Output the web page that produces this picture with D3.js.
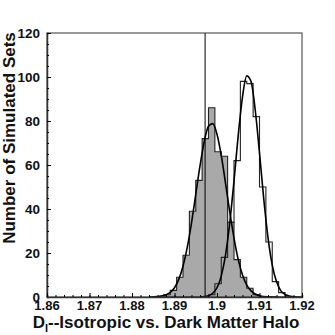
<!DOCTYPE html>
<html>
<head>
<meta charset="utf-8">
<script src="https://cdn.jsdelivr.net/npm/d3@7"></script>
<style>
  body { margin: 0; background: #fff; }
  text { font-family: "Liberation Sans", Arial, sans-serif; font-weight: bold; fill: #111; }
</style>
</head>
<body>
<div id="chart"></div>
<script>
// bin left edges (width 0.0015)
var binEdges = [1.8860, 1.8875, 1.8890, 1.8905, 1.8920, 1.8935, 1.8950, 1.8965, 1.8980, 1.8995,
  1.9010, 1.9025, 1.9040, 1.9055, 1.9070, 1.9085, 1.9100, 1.9115, 1.9130, 1.9145, 1.9160];
var binWidth = 0.0015;

// isotropic sets (grey histogram)
var isoCounts = [0, 1, 3, 9, 19, 39, 53, 72, 86, 66, 64, 34, 17, 9, 4, 1, 0, 0, 0, 0, 0];
// dark matter halo sets (open histogram)
var haloCounts = [0, 0, 0, 0, 0, 0, 0, 0, 1, 6, 18, 34, 62, 98, 97, 82, 50, 25, 7, 2, 0];

// fitted curves
var isoCurveX = [1.884, 1.886, 1.888, 1.889, 1.890, 1.891, 1.892, 1.893, 1.894, 1.895, 1.896, 1.897,
  1.898, 1.899, 1.900, 1.901, 1.902, 1.903, 1.904, 1.905, 1.906, 1.907, 1.908, 1.910, 1.912, 1.914];
var isoCurveY = [0, 0.2, 1.0, 2.1, 4.2, 8.0, 14, 22.6, 33.6, 46.6, 59.6, 70.7,
  77.6, 78.8, 74, 64.4, 51.8, 38.7, 26.8, 17, 10, 5.4, 2.8, 0.6, 0.1, 0];
var haloCurveX = [1.896, 1.898, 1.899, 1.900, 1.901, 1.902, 1.903, 1.904, 1.905, 1.906, 1.907,
  1.908, 1.909, 1.910, 1.911, 1.912, 1.913, 1.914, 1.915, 1.916, 1.918, 1.920];
var haloCurveY = [0, 0.6, 1.7, 4.2, 9.5, 19, 33.7, 52.8, 73.6, 91, 100.5,
  98, 84.9, 65.5, 44.6, 27, 14.5, 7, 2.9, 1.1, 0.1, 0];

var markerX = 1.8972;

var xTicks = [1.86, 1.87, 1.88, 1.89, 1.9, 1.91, 1.92];
var yTicks = [0, 20, 40, 60, 80, 100, 120];

var width = 335, height = 335;
var mLeft = 47, mRight = 302, mTop = 33, mBottom = 297;

var svg = d3.select("#chart").append("svg")
  .attr("width", width)
  .attr("height", height);

var x = d3.scaleLinear().domain([1.86, 1.92]).range([mLeft, mRight]);
var y = d3.scaleLinear().domain([0, 120]).range([mBottom, mTop]);

//Build step outline points for a histogram
function steps(counts) {
  var pts = [];
  for (var i = 0; i < counts.length; i++) {
    pts.push([binEdges[i], counts[i]]);
  }
  pts.push([binEdges[binEdges.length - 1] + binWidth, 0]);
  return pts;
}

var stepLine = d3.line()
  .x(d => x(d[0]))
  .y(d => y(d[1]))
  .curve(d3.curveStepAfter);

var stepArea = d3.area()
  .x(d => x(d[0]))
  .y0(y(0))
  .y1(d => y(d[1]))
  .curve(d3.curveStepAfter);

//grey filled histogram
svg.append("path")
  .datum(steps(isoCounts))
  .attr("fill", "#a9a9a9")
  .attr("d", stepArea);

//outlines
svg.append("path")
  .datum(steps(haloCounts))
  .attr("fill", "none")
  .attr("stroke", "#222")
  .attr("stroke-width", 1.1)
  .attr("d", stepLine);

svg.append("path")
  .datum(steps(isoCounts))
  .attr("fill", "none")
  .attr("stroke", "#222")
  .attr("stroke-width", 1.1)
  .attr("d", stepLine);

//fitted curves
var curve = d3.line()
  .x(d => x(d[0]))
  .y(d => y(d[1]))
  .curve(d3.curveMonotoneX);

svg.append("path")
  .datum(isoCurveX.map((v, i) => [v, isoCurveY[i]]))
  .attr("fill", "none")
  .attr("stroke", "#000")
  .attr("stroke-width", 1.6)
  .attr("d", curve);

svg.append("path")
  .datum(haloCurveX.map((v, i) => [v, haloCurveY[i]]))
  .attr("fill", "none")
  .attr("stroke", "#000")
  .attr("stroke-width", 1.6)
  .attr("d", curve);

//vertical marker
svg.append("line")
  .attr("x1", x(markerX)).attr("x2", x(markerX))
  .attr("y1", y(120)).attr("y2", y(0))
  .attr("stroke", "#000")
  .attr("stroke-width", 1);

//frame
svg.append("rect")
  .attr("x", mLeft).attr("y", mTop)
  .attr("width", mRight - mLeft).attr("height", mBottom - mTop)
  .attr("fill", "none")
  .attr("stroke", "#333")
  .attr("stroke-width", 1);

//y axis
svg.append("g")
  .attr("transform", "translate(" + mLeft + ",0)")
  .call(d3.axisRight(y).tickValues(d3.range(0, 121, 5)).tickSize(2).tickFormat(""))
  .call(g => g.select(".domain").attr("stroke", "#333").attr("stroke-width", 1.5));

svg.append("g")
  .attr("transform", "translate(" + mLeft + ",0)")
  .call(d3.axisRight(y).tickValues(yTicks).tickSize(4).tickFormat(""))
  .call(g => g.select(".domain").remove());

svg.append("g")
  .selectAll("text")
  .data(yTicks)
  .enter()
  .append("text")
  .attr("x", mLeft - 7)
  .attr("y", d => y(d) + 5)
  .attr("text-anchor", "end")
  .attr("font-size", 13.5)
  .text(d => d);

//x axis
svg.append("g")
  .attr("transform", "translate(0," + mBottom + ")")
  .call(d3.axisTop(x).tickValues(d3.range(0, 31).map(i => 1.86 + i * 0.002)).tickSize(2).tickFormat(""))
  .call(g => g.select(".domain").attr("stroke", "#333").attr("stroke-width", 1.5));

svg.append("g")
  .attr("transform", "translate(0," + mBottom + ")")
  .call(d3.axisTop(x).tickValues(xTicks).tickSize(4).tickFormat(""))
  .call(g => g.select(".domain").remove());

svg.append("g")
  .selectAll("text")
  .data(xTicks)
  .enter()
  .append("text")
  .attr("x", d => x(d))
  .attr("y", mBottom + 13)
  .attr("text-anchor", "middle")
  .attr("font-size", 13)
  .text(d => d3.format("")(d));

//axis titles
svg.append("text")
  .attr("transform", "translate(15,138) rotate(-90)")
  .attr("text-anchor", "middle")
  .attr("font-size", 17)
  .text("Number of Simulated Sets");

var xt = svg.append("text")
  .attr("x", 166)
  .attr("y", 328)
  .attr("text-anchor", "middle")
  .attr("font-size", 17);
xt.append("tspan").text("D");
xt.append("tspan").attr("font-size", 11).attr("dy", 4).text("I");
xt.append("tspan").attr("dy", -4).text("--Isotropic vs. Dark Matter Halo");
</script>
</body>
</html>
